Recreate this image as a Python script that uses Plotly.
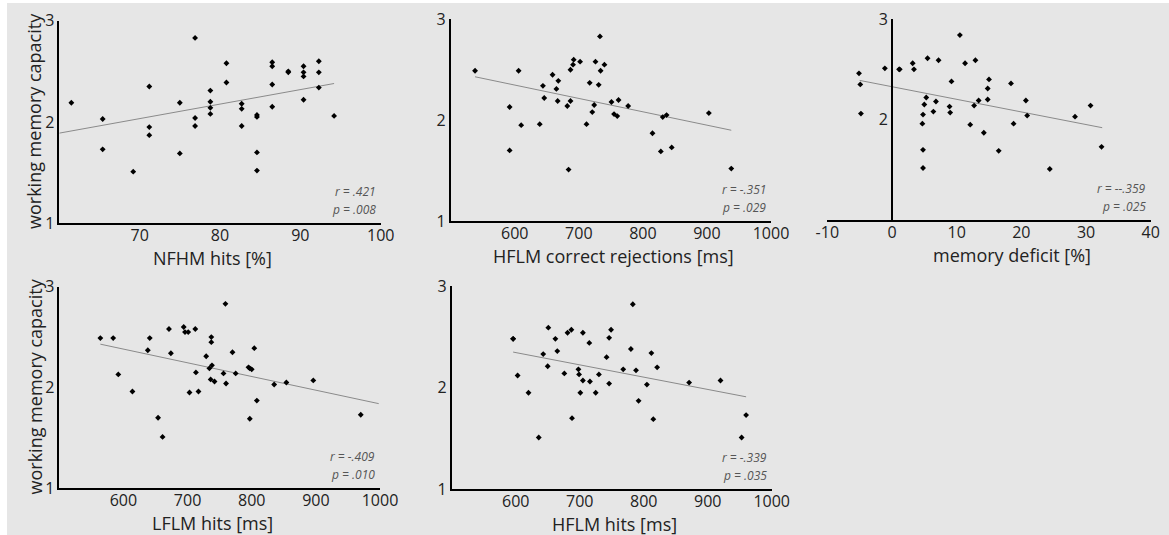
import plotly.graph_objects as go

W, H = 1169, 535
FONT = "Open Sans"

# ---------------- data ----------------
nfhm_x = [61.5, 65.4, 65.4, 69.2, 71.2, 71.2, 71.2, 75.0, 75.0, 76.9, 76.9, 76.9,
          78.8, 78.8, 78.8, 78.8, 80.8, 80.8, 82.7, 82.7, 82.7, 84.6, 84.6, 84.6, 84.6,
          86.5, 86.5, 86.5, 86.5, 88.5, 88.5, 90.4, 90.4, 90.4, 90.4, 92.3, 92.3, 92.3, 94.2]
nfhm_y = [2.19, 2.03, 1.73, 1.51, 2.35, 1.95, 1.87, 2.19, 1.69, 2.83, 2.04, 1.96,
          2.31, 2.20, 2.14, 2.08, 2.58, 2.39, 2.18, 2.13, 1.96, 2.07, 2.05, 1.70, 1.52,
          2.59, 2.55, 2.37, 2.15, 2.50, 2.49, 2.55, 2.49, 2.45, 2.22, 2.60, 2.49, 2.34, 2.06]
nfhm_fit_x = [60, 94.2]
nfhm_fit_y = [1.89, 2.38]

hfcr_x = [538, 592, 592, 606, 610, 639, 644, 646, 659, 665, 668, 667, 682, 684, 687, 687,
          691, 692, 702, 712, 717, 721, 724, 726, 731, 733, 734, 740, 751, 755, 760, 762,
          777, 815, 828, 831, 837, 845, 903, 938]
hfcr_y = [2.49, 2.13, 1.70, 2.49, 1.95, 1.96, 2.34, 2.22, 2.45, 2.31, 2.39, 2.19, 2.14, 1.51,
          2.19, 2.50, 2.55, 2.60, 2.58, 1.96, 2.37, 2.08, 2.15, 2.58, 2.35, 2.83, 2.49, 2.55,
          2.18, 2.06, 2.04, 2.20, 2.14, 1.87, 1.69, 2.03, 2.05, 1.73, 2.07, 1.52]
hfcr_fit_x = [538, 938]
hfcr_fit_y = [2.43, 1.90]

md_x = [-5.1, -4.9, -4.8, -1.1, 1.1, 1.2, 3.2, 3.4, 4.7, 4.8, 4.8, 4.8, 5.0, 5.3, 5.5,
        6.4, 6.8, 7.2, 8.9, 9.0, 9.2, 10.5, 11.3, 12.1, 12.7, 12.9, 13.4, 14.2, 14.8, 14.8,
        15.0, 16.5, 18.4, 18.8, 20.7, 20.9, 24.4, 28.3, 30.7, 32.4]
md_y = [2.46, 2.35, 2.06, 2.51, 2.50, 2.50, 2.56, 2.50, 1.96, 2.05, 1.70, 1.52, 2.15, 2.22,
        2.61, 2.08, 2.18, 2.59, 2.13, 2.07, 2.38, 2.84, 2.56, 1.95, 2.14, 2.59, 2.19, 1.87,
        2.20, 2.31, 2.40, 1.69, 2.36, 1.96, 2.19, 2.04, 1.51, 2.03, 2.14, 1.73]
md_fit_x = [-5.0, 32.5]
md_fit_y = [2.39, 1.92]

lflm_x = [564, 584, 592, 614, 638, 641, 654, 661, 671, 674, 694, 696, 701, 703, 712, 713,
          717, 729, 734, 736, 737, 737, 738, 742, 756, 759, 760, 770, 775, 795, 797, 797,
          800, 804, 808, 835, 854, 896, 970]
lflm_y = [2.49, 2.49, 2.13, 1.96, 2.37, 2.49, 1.70, 1.51, 2.58, 2.34, 2.60, 2.55, 2.55, 1.95,
          2.58, 2.15, 1.96, 2.31, 2.19, 2.08, 2.50, 2.45, 2.22, 2.06, 2.14, 2.83, 2.04, 2.35,
          2.14, 2.20, 1.69, 2.19, 2.18, 2.39, 1.87, 2.03, 2.05, 2.07, 1.73]
lflm_fit_x = [564, 998]
lflm_fit_y = [2.43, 1.84]

hflm_x = [596, 596, 603, 620, 636, 643, 650, 651, 662, 665, 676, 681, 687, 688, 698, 699,
          701, 705, 705, 715, 716, 725, 730, 742, 746, 746, 749, 768, 780, 783, 788, 792,
          805, 812, 815, 821, 871, 920, 953, 960]
hflm_y = [2.48, 2.48, 2.12, 1.95, 1.51, 2.33, 2.21, 2.59, 2.48, 2.36, 2.14, 2.54, 2.57, 1.70,
          2.18, 2.13, 1.95, 2.54, 2.07, 2.44, 2.06, 1.95, 2.13, 2.30, 2.49, 2.04, 2.57, 2.18,
          2.38, 2.82, 2.17, 1.87, 2.03, 2.34, 1.69, 2.20, 2.05, 2.07, 1.51, 1.73]
hflm_fit_x = [596, 960]
hflm_fit_y = [2.35, 1.91]

x_titles = ["NFHM hits [%]", "HFLM correct rejections [ms]", "memory deficit [%]",
            "LFLM hits [ms]", "HFLM hits [ms]"]
y_title = "working memory capacity"
r_texts = ["r = .421", "r = -.351", "r = --.359", "r = -.409", "r = -.339"]
p_texts = ["p = .008", "p = .029", "p = .025", "p = .010", "p = .035"]

x_ranges = [[60, 100], [500, 1000], [-10, 40], [500, 1000], [500, 1000]]
x_ticks = [[70, 80, 90, 100], [600, 700, 800, 900, 1000], [-10, 0, 10, 20, 30, 40],
           [600, 700, 800, 900, 1000], [600, 700, 800, 900, 1000]]
x_ticktext = [["70", "80", "90", "100"], ["600", "700", "800", "900", "1000"],
              ["-10", "0", "10", "20", "30", "40"],
              ["600", "700", "800", "900", "1000"], ["600", "700", "800", "900", "1000"]]
y_ticks = [[1, 2, 3], [1, 2, 3], [2, 3], [1, 2, 3], [1, 2, 3]]

# ---------------- layout geometry (pixels) ----------------
# (x_left, x_right, y_top, y_bottom)
boxes = [(59.3, 380.7, 20.7, 223.3),
         (450.7, 771.0, 19.3, 221.0),
         (827.3, 1150.7, 19.0, 220.3),
         (59.3, 380.0, 286.7, 488.3),
         (451.7, 771.7, 286.0, 489.3)]
title_cx = [212, 613, 1012, 212, 614]

def fx(px):
    return px / W

def fy(py):
    return 1 - py / H

series = [(nfhm_x, nfhm_y, nfhm_fit_x, nfhm_fit_y),
          (hfcr_x, hfcr_y, hfcr_fit_x, hfcr_fit_y),
          (md_x, md_y, md_fit_x, md_fit_y),
          (lflm_x, lflm_y, lflm_fit_x, lflm_fit_y),
          (hflm_x, hflm_y, hflm_fit_x, hflm_fit_y)]

fig = go.Figure()
layout = dict(width=W, height=H, margin=dict(l=0, r=0, t=0, b=0, pad=0),
              autosize=False,
              paper_bgcolor="white", plot_bgcolor="rgba(0,0,0,0)",
              showlegend=False, font=dict(family=FONT, color="#222222"))
annotations = []

for i, (sx, sy, lx, ly) in enumerate(series):
    n = i + 1
    xa = "x" if n == 1 else f"x{n}"
    ya = "y" if n == 1 else f"y{n}"
    fig.add_trace(go.Scatter(x=lx, y=ly, mode="lines", xaxis=xa, yaxis=ya,
                             line=dict(color="#8a8a8a", width=1), hoverinfo="skip"))
    fig.add_trace(go.Scatter(x=sx, y=sy, mode="markers", xaxis=xa, yaxis=ya,
                             marker=dict(symbol="diamond", size=4.5, color="black",
                                         line=dict(width=0))))
    x0, x1, y0, y1 = boxes[i]
    xkey = "xaxis" if n == 1 else f"xaxis{n}"
    ykey = "yaxis" if n == 1 else f"yaxis{n}"
    layout[xkey] = dict(domain=[fx(x0), fx(x1)], range=x_ranges[i], anchor=ya,
                        showline=True, linecolor="black", linewidth=1.5,
                        showgrid=False, zeroline=False, ticks="", automargin=False,
                        ticklabelstandoff=-3,
                        tickvals=x_ticks[i], ticktext=x_ticktext[i],
                        tickfont=dict(size=16, family=FONT, color="#222"))
    ydict = dict(domain=[fy(y1), fy(y0)], range=[1, 3], anchor=xa,
                 showline=True, linecolor="black", linewidth=1.5,
                 showgrid=False, zeroline=False, ticks="", automargin=False,
                 tickvals=y_ticks[i], tickfont=dict(size=16, family=FONT, color="#222"))
    if n == 3:
        # y axis crosses at x = 0
        zero_px = x0 + (0 - x_ranges[i][0]) / (x_ranges[i][1] - x_ranges[i][0]) * (x1 - x0)
        ydict.update(anchor="free", position=fx(zero_px))
    layout[ykey] = ydict

    # x-axis title
    annotations.append(dict(x=fx(title_cx[i]), y=fy(y1 + 35), xref="paper", yref="paper",
                            text=x_titles[i], showarrow=False, xanchor="center",
                            yanchor="middle",
                            font=dict(size=18, family=FONT, color="#222")))
    # r / p texts
    annotations.append(dict(x=fx(x1 - 3), y=fy(y1 - 32), xref="paper", yref="paper",
                            text=f"<i>{r_texts[i]}</i>", showarrow=False,
                            xanchor="right", yanchor="middle",
                            font=dict(size=12, family=FONT, color="#555")))
    annotations.append(dict(x=fx(x1 - 3), y=fy(y1 - 14), xref="paper", yref="paper",
                            text=f"<i>{p_texts[i]}</i>", showarrow=False,
                            xanchor="right", yanchor="middle",
                            font=dict(size=12, family=FONT, color="#555")))

# y-axis titles (rows)
for (y0, y1) in [(20.7, 223.3), (286.7, 488.3)]:
    annotations.append(dict(x=fx(34), y=fy((y0 + y1) / 2 - 1), xref="paper", yref="paper",
                            text=y_title, showarrow=False, textangle=-90,
                            xanchor="center", yanchor="middle",
                            font=dict(size=18, family=FONT, color="#222")))

layout["annotations"] = annotations
layout["shapes"] = [dict(type="rect", xref="paper", yref="paper", x0=fx(7), x1=1,
                         y0=0, y1=fy(3), fillcolor="#e6e6e6", line=dict(width=0),
                         layer="below")]
fig.update_layout(**layout)
fig.write_html("out.html")
